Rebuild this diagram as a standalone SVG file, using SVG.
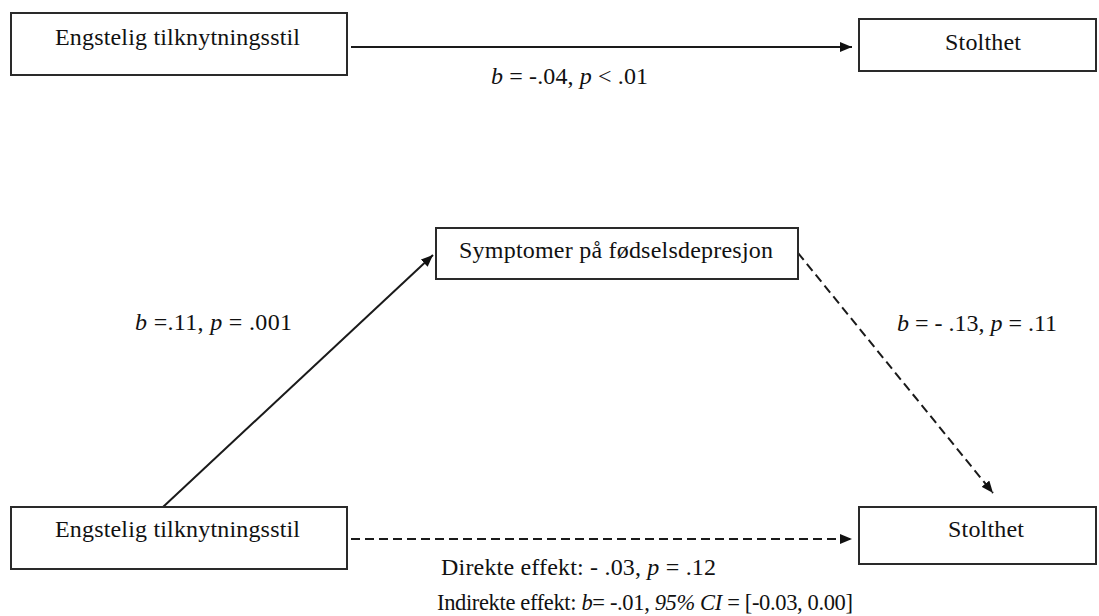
<svg xmlns="http://www.w3.org/2000/svg" width="1099" height="616" viewBox="0 0 1099 616">
  <style>
    .box { fill: #ffffff; stroke: #2a2a2a; stroke-width: 2; }
    .lbl { font-family: "Liberation Serif", "Times New Roman", serif; font-size: 24px; fill: #111111; }
    .small { font-size: 22.5px; }
    .it { font-style: italic; }
    .edge { stroke: #1a1a1a; stroke-width: 2; fill: none; }
    .dash { stroke-dasharray: 9 5; }
  </style>
  <defs>
    <marker id="arrow" viewBox="0 0 12 10" refX="12" refY="5" markerWidth="12" markerHeight="10" markerUnits="userSpaceOnUse" orient="auto">
      <path d="M0,0 L12,5 L0,10 Z" fill="#111111"/>
    </marker>
  </defs>

  <rect width="1099" height="616" fill="#ffffff"/>

  <!-- connectors -->
  <g id="connectors">
    <line class="edge" x1="351" y1="47" x2="852" y2="47" marker-end="url(#arrow)"/>
    <line class="edge" x1="163" y1="507" x2="433" y2="255" marker-end="url(#arrow)"/>
    <line class="edge dash" x1="798" y1="253" x2="993" y2="493" marker-end="url(#arrow)"/>
    <line class="edge dash" x1="351" y1="539" x2="852" y2="539" marker-end="url(#arrow)"/>
  </g>

  <!-- edge labels -->
  <g id="labels">
    <text class="lbl" x="491" y="84" textLength="157"><tspan class="it">b</tspan> = -.04, <tspan class="it">p</tspan> &lt; .01</text>
    <text class="lbl" x="135" y="330" textLength="157"><tspan class="it">b</tspan> =.11, <tspan class="it">p</tspan> = .001</text>
    <text class="lbl" x="897" y="331" textLength="160"><tspan class="it">b</tspan> = - .13, <tspan class="it">p</tspan> = .11</text>
    <text class="lbl" x="441" y="575" textLength="275">Direkte effekt: - .03, <tspan class="it">p</tspan> = .12</text>
    <text class="lbl small" x="437" y="610" textLength="416">Indirekte effekt: <tspan class="it">b</tspan>= -.01, <tspan class="it">95% CI</tspan> = [-0.03, 0.00]</text>
  </g>

  <!-- top row -->
  <g id="anxious-top">
    <rect class="box" x="11" y="13" width="336" height="62"/>
    <text class="lbl" x="55" y="45" textLength="245">Engstelig tilknytningsstil</text>
  </g>
  <g id="pride-top">
    <rect class="box" x="859" y="19" width="237" height="52"/>
    <text class="lbl" x="945" y="50" textLength="76">Stolthet</text>
  </g>

  <!-- mediation model -->
  <g id="mediator">
    <rect class="box" x="436" y="228" width="362" height="51"/>
    <text class="lbl" x="459" y="258" textLength="314">Symptomer på fødselsdepresjon</text>
  </g>
  <g id="anxious-bottom">
    <rect class="box" x="11" y="507" width="336" height="62"/>
    <text class="lbl" x="55" y="537" textLength="245">Engstelig tilknytningsstil</text>
  </g>
  <g id="pride-bottom">
    <rect class="box" x="859" y="507" width="237" height="57"/>
    <text class="lbl" x="948" y="537" textLength="76">Stolthet</text>
  </g>
</svg>
